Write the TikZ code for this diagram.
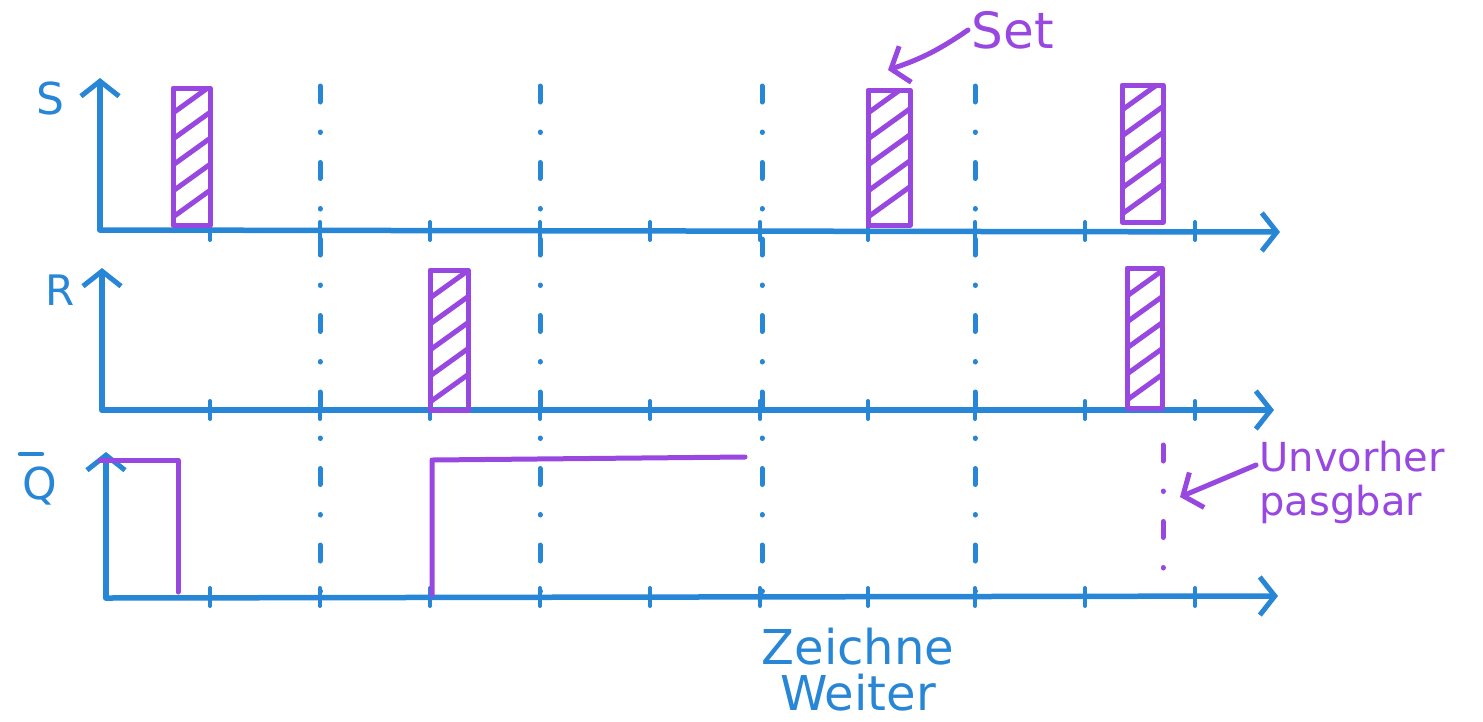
\documentclass[tikz,border=0pt]{standalone}
\usepackage{fontspec}
\setmainfont{DejaVu Sans}
\usepackage{xcolor}
\definecolor{PenBlue}{RGB}{40,134,214}
\definecolor{PenPurple}{RGB}{152,72,224}
\usepackage{tikz}
\usetikzlibrary{arrows.meta}
\tikzset{
	axis/.style={PenBlue, line width=5.5pt, line cap=round, line join=round},
	sig/.style={PenPurple, line width=5pt, line cap=round, line join=round},
	takt/.style={PenBlue, line width=5pt, line cap=round, dash pattern=on 16pt off 30pt on 0.5pt off 30pt},
	note/.style={PenPurple, line width=5pt, line cap=round},
	pfeil/.style={-{Straight Barb[length=15pt, width=38pt, line width=5pt]}},
}
\providecommand{\Puls}[4]{%
	% x links, x rechts, y oben, y unten
	\begin{scope}
		\clip (#1,#3) rectangle (#2,#4);
		\foreach \k in {0,...,6}
			\draw[sig] (#1,{#4-8-26*\k}) -- ++(50,-36);
	\end{scope}
	\draw[sig] (#1,#3) rectangle (#2,#4);
}

\begin{document}
\begin{tikzpicture}[x=1pt, y=-1pt]
	\useasboundingbox (0,0) rectangle (1483,721);

	% Taktlinien
	\foreach \x in {320,540,762,975}
		\draw[takt] (\x,86) -- (\x,606);

	% Achsen
	\draw[axis, pfeil] (100,230) -- (100,78);
	\draw[axis, pfeil] (100,230) -- (1280,232);
	\draw[axis, pfeil] (102,410) -- (102,268);
	\draw[axis, pfeil] (102,410) -- (1274,410);
	\draw[axis, pfeil] (106,598) -- (106,452);
	\draw[axis, pfeil] (106,598) -- (1278,596);
	\foreach \y in {231,410,597}
		\foreach \x in {210,320,430,540,650,760,868,975,1085,1195}
			\draw[axis, line width=4pt] (\x,\y-9) -- (\x,\y+9);

	\node[PenBlue, font=\fontsize{44}{44}\selectfont] (lblS) at (50,98) {S};
	\node[PenBlue, font=\fontsize{42}{42}\selectfont] (lblR) at (60,290) {R};
	\node[PenBlue, font=\fontsize{44}{44}\selectfont] (lblQ) at (40,486) {Q};
	\draw[axis, line width=4.5pt] (20,454) -- (42,454);

	% S
	\Puls{173}{210}{88}{225}
	\Puls{868}{910}{90}{225}
	\Puls{1122}{1163}{85}{222}
	% R
	\Puls{430}{468}{270}{410}
	\Puls{1127}{1162}{268}{408}
	% Q quer
	\draw[sig] (100,460) -- (178,460) -- (178,592);
	\draw[sig] (432,595) -- (432,460) -- (745,457);
	\draw[takt, PenPurple] (1163,445) -- (1163,592);

	\node[PenPurple, font=\fontsize{50}{50}\selectfont, anchor=west] (set) at (968,30) {Set};
	\coordinate (setziel) at (888,70);
	\draw[note, pfeil] (set.west) to[bend left=8] (setziel);

	\node[PenPurple, font=\fontsize{40}{44}\selectfont, align=left, anchor=west] (unvorher) at (1256,482) {Unvorher\\pasgbar};
	\coordinate (unziel) at (1180,497);
	\draw[note, pfeil] (unvorher.west |- 1240,465) -- (unziel);

	\node[PenBlue, font=\fontsize{48}{46}\selectfont, align=center] (zeichne) at (858,670) {Zeichne\\Weiter};
\end{tikzpicture}
\end{document}
